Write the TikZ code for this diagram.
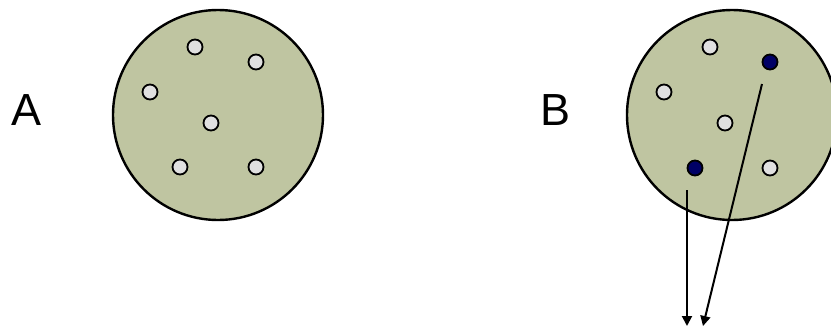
\documentclass[tikz,border=0pt]{standalone}
\usepackage{fontspec}
\setmainfont{Liberation Sans}
\usetikzlibrary{arrows.meta}
\definecolor{dish}{HTML}{BFC5A1}
\definecolor{cellfill}{HTML}{E0E0E0}
\definecolor{darkcell}{HTML}{000066}
\tikzset{
  dishbox/.style={circle, draw=black, line width=2.4pt, fill=dish, minimum size=210pt, inner sep=0pt},
  cell/.style={circle, draw=black, line width=1.8pt, fill=cellfill, minimum size=15pt, inner sep=0pt},
  dcell/.style={cell, fill=darkcell},
  lbl/.style={font=\fontsize{45}{50}\selectfont, inner sep=0pt},
  arr/.style={line width=2pt, -{Triangle[length=10pt,width=10pt]}}
}
\begin{document}
\begin{tikzpicture}[x=1pt,y=-1pt]
\useasboundingbox (0,0) rectangle (831,327);
% A
\node[lbl] (la) at (27,110) {A};
\node[dishbox] (da) at (218,115) {};
\node[cell] (a1) at (195,47) {};
\node[cell] (a2) at (256,62) {};
\node[cell] (a3) at (150,92) {};
\node[cell] (a4) at (211,123) {};
\node[cell] (a5) at (180,167) {};
\node[cell] (a6) at (256,167) {};
% B
\node[lbl] (lb) at (556,110) {B};
\node[dishbox] (db) at (732,115) {};
\node[cell] (b1) at (710,47) {};
\node[dcell] (b2) at (770,62) {};
\node[cell] (b3) at (664,92) {};
\node[cell] (b4) at (725,123) {};
\node[dcell] (b5) at (695,168) {};
\node[cell] (b6) at (770,168) {};
% arrows
\coordinate (s1) at (687,190);
\coordinate (e1) at (687,326);
\coordinate (s2) at (762,84);
\coordinate (e2) at (703,326);
\draw[arr] (s1) -- (e1);
\draw[arr] (s2) -- (e2);
\end{tikzpicture}
\end{document}
